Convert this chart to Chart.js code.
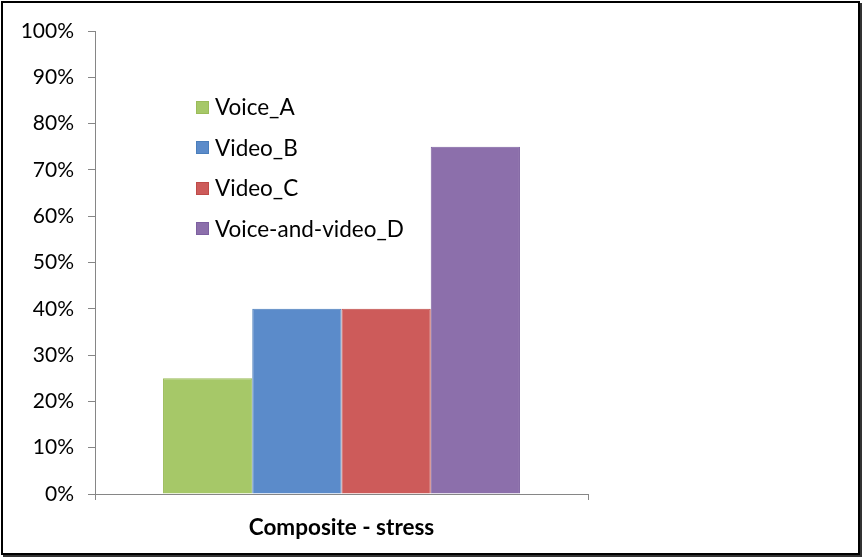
<!DOCTYPE html>
<html>
<head>
<meta charset="utf-8">
<script src="https://cdn.jsdelivr.net/npm/chart.js@4"></script>
<style>
  body { margin: 0; background: #fff; }
  .wrap { position: relative; width: 864px; height: 560px; }
  .frame { position: absolute; left: 1px; top: 1px; width: 855px; height: 550px;
    border: 2px solid #000; box-shadow: 2px 2px 0 #333; pointer-events: none; }
  canvas { position: absolute; left: 0; top: 0; }
  .legend { position: absolute; left: 196px; top: 87px; font-family: Lato, sans-serif; font-size: 22.5px; color: #000; }
  .legend div { height: 40.5px; line-height: 40.5px; display: flex; align-items: center; }
  .legend span.box { width: 11px; height: 11px; border: 1px solid; margin-right: 6px; }
</style>
</head>
<body>
<div class="wrap">
  <canvas id="chart" width="864" height="560"></canvas>
  <div class="legend" id="legend"></div>
  <div class="frame"></div>
</div>
<script>
const categories = ['Composite - stress']
const seriesNames = ['Voice_A', 'Video_B', 'Video_C', 'Voice-and-video_D']
const seriesValues = [25, 40, 40, 75]
const fillColors = ['#a6c868', '#5b8bca', '#cd5b5a', '#8c6fab']
const edgeColors = ['#9bbb59', '#4a7ebb', '#be4b48', '#7d60a0']

const datasets = seriesNames.map((name, i) => ({
  label: name,
  data: [seriesValues[i]],
  backgroundColor: fillColors[i],
  borderColor: edgeColors[i],
  borderWidth: 1,
  categoryPercentage: 0.724,
  barPercentage: 1,
}))

const legend = document.getElementById('legend')
seriesNames.forEach((name, i) => {
  const row = document.createElement('div')
  const box = document.createElement('span')
  box.className = 'box'
  box.style.background = fillColors[i]
  box.style.borderColor = edgeColors[i]
  row.appendChild(box)
  row.appendChild(document.createTextNode(name))
  legend.appendChild(row)
})

new Chart(document.getElementById('chart'), {
  type: 'bar',
  data: { labels: categories, datasets: datasets },
  options: {
    responsive: false,
    animation: false,
    layout: { padding: { left: 0, right: 276, top: 31, bottom: 0 } },
    plugins: { legend: { display: false }, tooltip: { enabled: false } },
    scales: {
      x: {
        grid: { offset: true, drawOnChartArea: false, tickLength: 6, color: '#868686' },
        border: { color: '#868686' },
        ticks: { padding: 14, color: '#000', font: { family: 'Lato', size: 22.5, weight: 'bold' } },
        afterFit: (scale) => { scale.height = 66 },
      },
      y: {
        min: 0,
        max: 100,
        ticks: { stepSize: 10, padding: 14, color: '#000', font: { family: 'Lato', size: 21 },
          callback: (v) => v + '%' },
        grid: { drawOnChartArea: false, tickLength: 7, color: '#868686' },
        border: { color: '#868686' },
        afterFit: (scale) => { scale.width = 95 },
      },
    },
  },
})
</script>
</body>
</html>
